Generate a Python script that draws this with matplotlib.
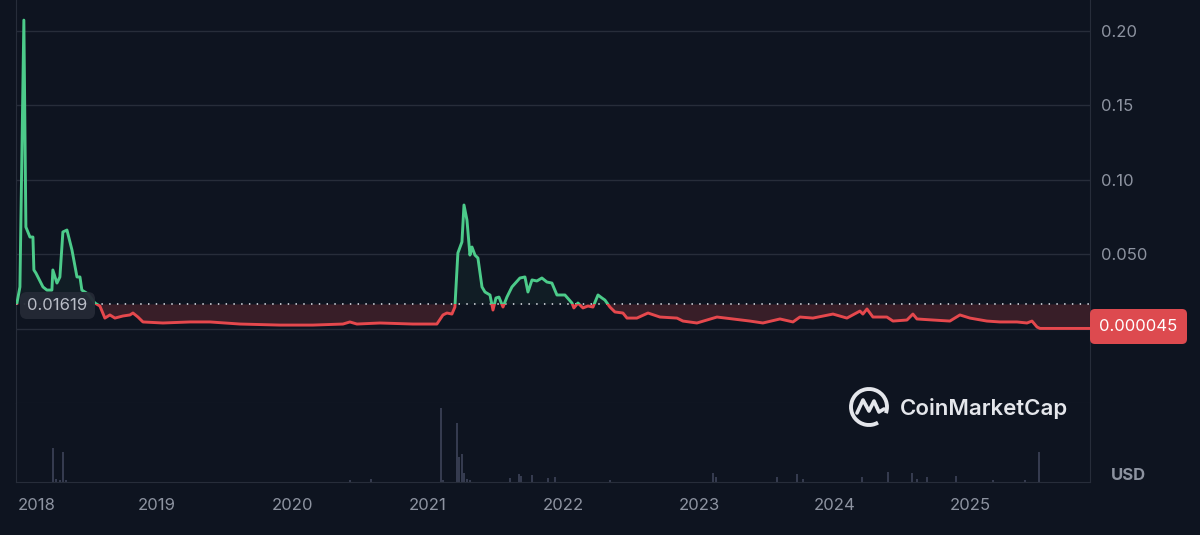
import matplotlib.pyplot as plt
from matplotlib.patches import Rectangle, FancyBboxPatch, Arc
import numpy as np

# prezzo (USD), tempo in anni decimali
t_price = [2017.967, 2017.989, 2018.018, 2018.033, 2018.063, 2018.085, 2018.092, 2018.107,
           2018.159, 2018.188, 2018.225, 2018.232, 2018.262, 2018.284, 2018.306, 2018.336,
           2018.373, 2018.410, 2018.432, 2018.446, 2018.491, 2018.542, 2018.579, 2018.616,
           2018.653, 2018.690, 2018.749, 2018.801, 2018.823, 2018.860, 2018.897, 2019.044,
           2019.244, 2019.391, 2019.613, 2019.908, 2020.151, 2020.373, 2020.424, 2020.476,
           2020.646, 2020.889, 2021.066, 2021.111, 2021.140, 2021.177, 2021.199, 2021.221,
           2021.251, 2021.266, 2021.288, 2021.310, 2021.325, 2021.347, 2021.369, 2021.399,
           2021.421, 2021.458, 2021.480, 2021.502, 2021.524, 2021.554, 2021.583, 2021.620,
           2021.679, 2021.716, 2021.738, 2021.768, 2021.804, 2021.841, 2021.878, 2021.915,
           2021.952, 2022.011, 2022.063, 2022.077, 2022.107, 2022.144, 2022.181, 2022.218,
           2022.255, 2022.284, 2022.306, 2022.343, 2022.380, 2022.439, 2022.469, 2022.542,
           2022.624, 2022.712, 2022.838, 2022.882, 2022.985, 2023.133, 2023.251, 2023.376,
           2023.472, 2023.598, 2023.694, 2023.745, 2023.841, 2023.989, 2024.092, 2024.188,
           2024.210, 2024.240, 2024.284, 2024.387, 2024.432, 2024.535, 2024.579, 2024.609,
           2024.727, 2024.852, 2024.926, 2025.000, 2025.125, 2025.221, 2025.347, 2025.421,
           2025.458, 2025.495, 2025.517, 2025.886]
price = [0.0171, 0.0279, 0.2070, 0.0681, 0.0614, 0.0614, 0.0393, 0.0372,
         0.0279, 0.0258, 0.0258, 0.0393, 0.0305, 0.0346, 0.0648, 0.0661,
         0.0527, 0.0346, 0.0346, 0.0258, 0.0232, 0.0171, 0.0151, 0.0070,
         0.0091, 0.0070, 0.0084, 0.0091, 0.0104, 0.0077, 0.0044, 0.0037,
         0.0044, 0.0044, 0.0030, 0.0023, 0.0023, 0.0030, 0.0044, 0.0030,
         0.0037, 0.0030, 0.0030, 0.0091, 0.0104, 0.0097, 0.0144, 0.0507,
         0.0581, 0.0829, 0.0728, 0.0493, 0.0547, 0.0493, 0.0473, 0.0279,
         0.0245, 0.0225, 0.0124, 0.0205, 0.0211, 0.0144, 0.0211, 0.0279,
         0.0339, 0.0346, 0.0245, 0.0326, 0.0319, 0.0339, 0.0312, 0.0305,
         0.0225, 0.0225, 0.0171, 0.0138, 0.0171, 0.0138, 0.0151, 0.0144,
         0.0225, 0.0205, 0.0191, 0.0144, 0.0111, 0.0104, 0.0070, 0.0070,
         0.0104, 0.0077, 0.0070, 0.0050, 0.0037, 0.0077, 0.0064, 0.0050,
         0.0037, 0.0064, 0.0044, 0.0077, 0.0070, 0.0097, 0.0070, 0.0117,
         0.0097, 0.0131, 0.0077, 0.0077, 0.0050, 0.0057, 0.0097, 0.0064,
         0.0057, 0.0050, 0.0091, 0.0070, 0.0050, 0.0044, 0.0044, 0.0037,
         0.0050, 0.0010, 0.000045, 0.000045]

# volume (scala relativa)
t_vol = [2018.235, 2018.255, 2018.284, 2018.308, 2018.328, 2020.424, 2020.579,
         2021.096, 2021.111, 2021.212, 2021.229, 2021.251, 2021.266, 2021.288, 2021.310,
         2021.605, 2021.672, 2021.686, 2021.768, 2021.886, 2021.937, 2022.343,
         2023.103, 2023.125, 2023.576, 2023.723, 2023.768, 2024.203, 2024.395,
         2024.572, 2024.609, 2024.683, 2024.897, 2025.170, 2025.406, 2025.509]
vol = [33.5, 2.5, 2.0, 29.5, 2.0, 1.5, 3.0,
       73.5, 2.0, 58.5, 24.5, 27.5, 8.5, 3.0, 2.0,
       3.5, 7.5, 5.5, 6.5, 3.5, 4.5, 1.5,
       8.5, 4.5, 4.5, 7.5, 2.5, 4.5, 9.5,
       8.5, 2.5, 4.5, 5.5, 1.5, 1.5, 29.5]

base_price = 0.01619
last_label = "0.000045"
year_ticks = [2019, 2020, 2021, 2022, 2023, 2024, 2025]
price_ticks = [0.0, 0.05, 0.10, 0.15, 0.20]
price_tick_labels = ["", "0.050", "0.10", "0.15", "0.20"]

BG = "#0e1420"
GRID = "#272d3a"
TXT = "#8d93a0"
GREEN = "#4ccb8a"
RED = "#e5484d"

plt.rcParams['font.family'] = ['Inter', 'DejaVu Sans']

fig = plt.figure(figsize=(12, 5.35), dpi=100, facecolor=BG)
W, H = 1200, 535
x0, x1 = 16, 1090
ax = fig.add_axes([x0 / W, 1 - 403 / H, (x1 - x0) / W, 403 / H], facecolor=BG)
axv = fig.add_axes([x0 / W, 1 - 481.5 / H, (x1 - x0) / W, (481.5 - 403) / H], facecolor=BG)

xmin, xmax = 2017.96, 2025.886
t = np.array(t_price)
p = np.array(price)

# riempimenti
ax.fill_between(t, p, base_price, where=p < base_price, interpolate=True,
                color=RED, alpha=0.2, lw=0)
ax.fill_between(t, p, base_price, where=p >= base_price, interpolate=True,
                color=GREEN, alpha=0.05, lw=0)

# linea verde sopra la base, rossa sotto
lg, = ax.plot(t, p, color=GREEN, lw=2.1, solid_joinstyle='round', zorder=4)
lr, = ax.plot(t, p, color=RED, lw=2.1, solid_joinstyle='round', zorder=4)
lg.set_clip_path(Rectangle((xmin, base_price), xmax - xmin, 1, transform=ax.transData))
lr.set_clip_path(Rectangle((xmin, -1), xmax - xmin, 1 + base_price, transform=ax.transData))

ax.axhline(base_price, color="#c8cbd2", lw=1.3, ls=(0, (0.8, 3.5)), zorder=3)

ax.set_xlim(xmin, xmax)
ax.set_ylim(-0.05, 0.2205)
ax.set_yticks(price_ticks)
ax.set_yticklabels(price_tick_labels)
ax.yaxis.tick_right()
ax.tick_params(axis='y', length=0, pad=8, labelsize=12, labelcolor=TXT)
ax.set_xticks([])
ax.grid(axis='y', color=GRID, lw=1)
for s in ['left', 'right', 'bottom']:
    ax.spines[s].set_color(GRID)
ax.spines['top'].set_visible(False)

# volume
axv.vlines(t_vol, 0, vol, color="#3d4459", lw=1.2)
axv.set_xlim(xmin, xmax)
axv.set_ylim(0, 78.5)
axv.set_yticks([])
axv.set_xticks(year_ticks)
axv.set_xticklabels([str(y) for y in year_ticks])
axv.tick_params(axis='x', length=0, pad=12, labelsize=12, labelcolor=TXT)
for s in ['left', 'right', 'bottom']:
    axv.spines[s].set_color(GRID)
axv.spines['top'].set_visible(False)
axv.annotate("2018", xy=(0, 0), xycoords='axes fraction', xytext=(1, -12),
             textcoords='offset points', ha='left', va='top', fontsize=12, color=TXT)

# overlay in pixel per etichette e logo
ov = fig.add_axes([0, 0, 1, 1], facecolor='none')
ov.set_xlim(0, W)
ov.set_ylim(H, 0)
ov.axis('off')

ov.add_patch(FancyBboxPatch((20, 292), 75, 27, boxstyle='round,pad=0,rounding_size=7',
                            fc="#252a36", ec='none', alpha=0.95, zorder=5))
ov.text(57.5, 305.5, f"{base_price:.5f}", ha='center', va='center', fontsize=12,
        color="#b9bdc7", zorder=6)

ov.add_patch(FancyBboxPatch((1090, 309), 97, 35, boxstyle='round,pad=0,rounding_size=5',
                            fc="#dd4a4f", ec='none', zorder=5))
ov.text(1138.5, 326.5, last_label, ha='center', va='center', fontsize=12,
        color="white", zorder=6)

ov.text(1128, 476, "USD", ha='center', va='center', fontsize=12, fontweight='bold',
        color=TXT)

# logo CoinMarketCap
LOGO = "#e4e6eb"
ov.add_patch(Arc((869, 407), 36, 36, theta1=60, theta2=380, color=LOGO, lw=2.8))
ov.plot([857, 863, 869, 874, 879, 884], [413, 400, 411, 401, 412, 409],
        color=LOGO, lw=2.6, solid_joinstyle='round', solid_capstyle='round')
ov.text(900, 415, "CoinMarketCap", ha='left', va='baseline', fontsize=16,
        fontweight='semibold', color=LOGO)

fig.savefig("out.png", dpi=100, facecolor=BG)
